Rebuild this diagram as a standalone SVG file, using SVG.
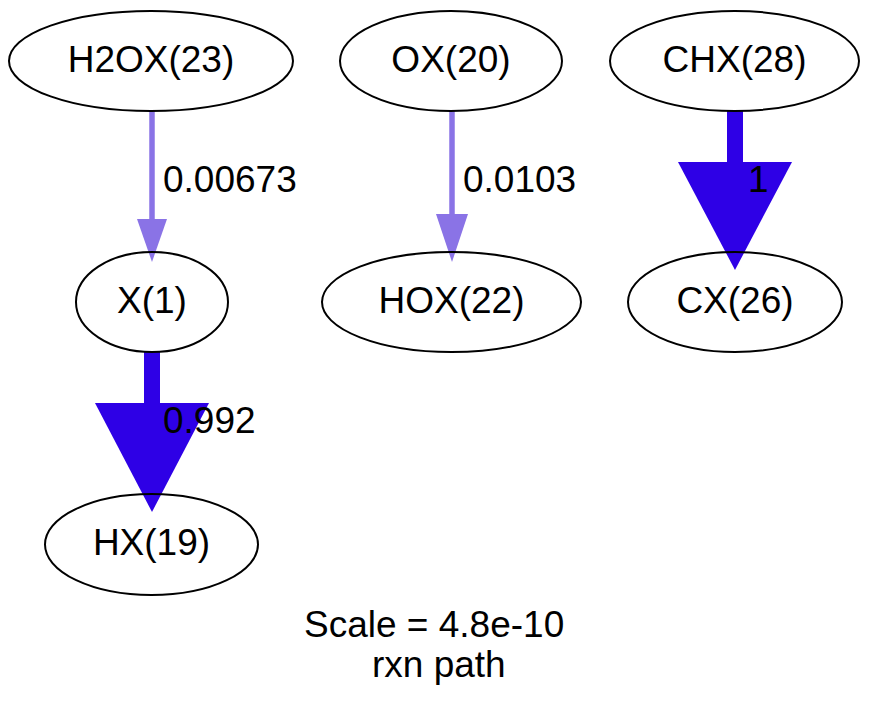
<svg xmlns="http://www.w3.org/2000/svg" width="871" height="711" viewBox="0 0 871 711">
<style>
  .node ellipse { fill: none; stroke: #000; stroke-width: 2; }
  text { font-family: "Liberation Sans", Arial, Helvetica, sans-serif; font-size: 37px; fill: #000; }
  .nl { text-anchor: middle; }
  .thin { stroke: #8A73E6; stroke-width: 5.5; fill: none; }
  .thinh { fill: #8A73E6; }
  .thick { stroke: #2E00E6; stroke-width: 16; fill: none; }
  .thickh { fill: #2E00E6; }
</style>
<rect width="871" height="711" fill="#fff"/>
<g id="connectors">
  <g id="e_h2ox_x">
    <line class="thin" x1="152" y1="111" x2="152" y2="220"/>
    <polygon class="thinh" points="137,219 167,219 152,262"/>
    <text x="163" y="192">0.00673</text>
  </g>
  <g id="e_ox_hox">
    <line class="thin" x1="452" y1="111" x2="452" y2="215"/>
    <polygon class="thinh" points="436,214 468,214 452,262"/>
    <text x="463" y="192">0.0103</text>
  </g>
  <g id="e_chx_cx">
    <line class="thick" x1="735" y1="111" x2="735" y2="164"/>
    <polygon class="thickh" points="678,162 792,162 735,270"/>
    <text x="748" y="192">1</text>
  </g>
  <g id="e_x_hx">
    <line class="thick" x1="152" y1="352" x2="152" y2="405"/>
    <polygon class="thickh" points="95,403 209,403 152,512"/>
    <text x="163" y="433">0.992</text>
  </g>
</g>
<g id="H2OX23" class="node"><ellipse cx="151" cy="61" rx="142" ry="50"/><text class="nl" x="151" y="72">H2OX(23)</text></g>
<g id="OX20" class="node"><ellipse cx="451" cy="61" rx="111" ry="50"/><text class="nl" x="451" y="72">OX(20)</text></g>
<g id="CHX28" class="node"><ellipse cx="734.5" cy="61" rx="124.5" ry="50"/><text class="nl" x="734.5" y="72">CHX(28)</text></g>
<g id="X1" class="node"><ellipse cx="152" cy="302" rx="76" ry="50"/><text class="nl" x="152" y="313">X(1)</text></g>
<g id="HOX22" class="node"><ellipse cx="451.5" cy="302" rx="129.5" ry="50"/><text class="nl" x="451.5" y="313">HOX(22)</text></g>
<g id="CX26" class="node"><ellipse cx="735" cy="302" rx="107" ry="50"/><text class="nl" x="735" y="313">CX(26)</text></g>
<g id="HX19" class="node"><ellipse cx="151.5" cy="544.5" rx="106.5" ry="50.5"/><text class="nl" x="151.5" y="555">HX(19)</text></g>
<g id="caption">
  <text x="304" y="637">Scale = 4.8e-10</text>
  <text x="372" y="677">rxn path</text>
</g>
</svg>
